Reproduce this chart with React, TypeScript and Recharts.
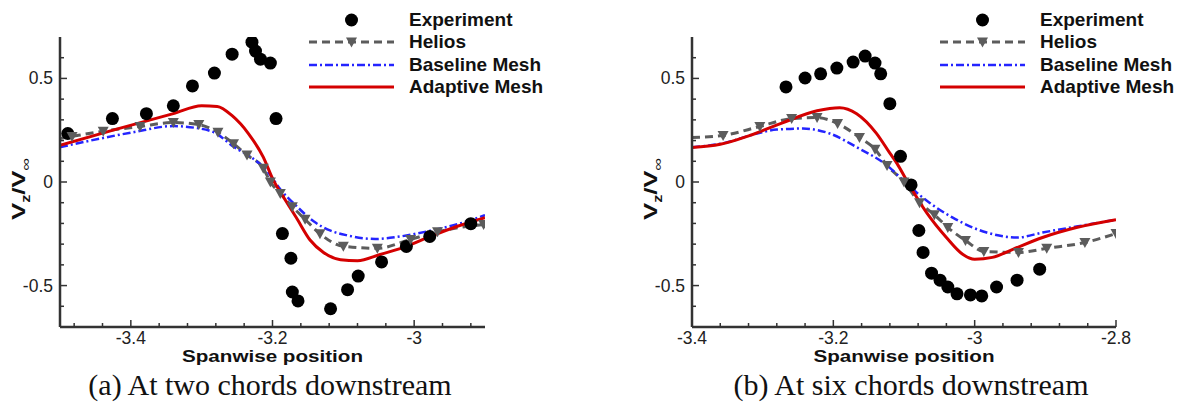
import React from 'react';
import { ComposedChart, Label, Legend, Line, Scatter, XAxis, YAxis } from 'recharts';

type Pt = { x: number; y: number };

// (a) two chords downstream
const expA: Pt[] = [
  { x: -3.489, y: 0.234 }, { x: -3.426, y: 0.306 }, { x: -3.378, y: 0.33 },
  { x: -3.34, y: 0.368 }, { x: -3.313, y: 0.464 }, { x: -3.282, y: 0.526 },
  { x: -3.257, y: 0.617 }, { x: -3.229, y: 0.675 }, { x: -3.224, y: 0.632 },
  { x: -3.217, y: 0.593 }, { x: -3.203, y: 0.574 }, { x: -3.195, y: 0.306 },
  { x: -3.186, y: -0.249 }, { x: -3.174, y: -0.368 }, { x: -3.172, y: -0.531 },
  { x: -3.164, y: -0.574 }, { x: -3.118, y: -0.612 }, { x: -3.094, y: -0.52 },
  { x: -3.079, y: -0.454 }, { x: -3.046, y: -0.386 }, { x: -3.011, y: -0.311 },
  { x: -2.978, y: -0.263 }, { x: -2.92, y: -0.201 },
];
const heliosA: Pt[] = [
  { x: -3.5, y: 0.21 }, { x: -3.483, y: 0.22 }, { x: -3.439, y: 0.245 },
  { x: -3.387, y: 0.268 }, { x: -3.34, y: 0.287 }, { x: -3.304, y: 0.277 },
  { x: -3.277, y: 0.24 }, { x: -3.255, y: 0.185 }, { x: -3.236, y: 0.13 },
  { x: -3.213, y: 0.066 }, { x: -3.203, y: 0.0 }, { x: -3.189, y: -0.055 },
  { x: -3.172, y: -0.12 }, { x: -3.154, y: -0.18 }, { x: -3.133, y: -0.25 },
  { x: -3.1, y: -0.31 }, { x: -3.052, y: -0.32 }, { x: -3.005, y: -0.277 },
  { x: -2.967, y: -0.24 }, { x: -2.902, y: -0.205 },
];
const baselineA: Pt[] = [
  { x: -3.5, y: 0.168 }, { x: -3.443, y: 0.21 }, { x: -3.397, y: 0.24 },
  { x: -3.34, y: 0.27 }, { x: -3.31, y: 0.262 }, { x: -3.28, y: 0.235 },
  { x: -3.255, y: 0.17 }, { x: -3.23, y: 0.12 }, { x: -3.207, y: 0.05 },
  { x: -3.189, y: -0.035 }, { x: -3.165, y: -0.12 }, { x: -3.142, y: -0.19 },
  { x: -3.118, y: -0.235 }, { x: -3.094, y: -0.258 }, { x: -3.055, y: -0.275 },
  { x: -3.024, y: -0.265 }, { x: -2.977, y: -0.235 }, { x: -2.93, y: -0.195 },
  { x: -2.9, y: -0.16 },
];
const adaptiveA: Pt[] = [
  { x: -3.5, y: 0.177 }, { x: -3.42, y: 0.255 }, { x: -3.34, y: 0.33 },
  { x: -3.3, y: 0.368 }, { x: -3.278, y: 0.365 }, { x: -3.257, y: 0.32 },
  { x: -3.234, y: 0.234 }, { x: -3.213, y: 0.12 }, { x: -3.199, y: 0.01 },
  { x: -3.185, y: -0.07 }, { x: -3.165, y: -0.18 }, { x: -3.147, y: -0.28 },
  { x: -3.128, y: -0.34 }, { x: -3.104, y: -0.375 }, { x: -3.08, y: -0.38 },
  { x: -3.048, y: -0.35 }, { x: -3.015, y: -0.316 }, { x: -2.977, y: -0.263 },
  { x: -2.94, y: -0.215 }, { x: -2.9, y: -0.172 },
];

// (b) six chords downstream
const expB: Pt[] = [
  { x: -3.267, y: 0.459 }, { x: -3.24, y: 0.502 }, { x: -3.218, y: 0.522 },
  { x: -3.195, y: 0.55 }, { x: -3.172, y: 0.579 }, { x: -3.155, y: 0.608 },
  { x: -3.141, y: 0.574 }, { x: -3.133, y: 0.522 }, { x: -3.12, y: 0.378 },
  { x: -3.105, y: 0.124 }, { x: -3.09, y: -0.014 }, { x: -3.079, y: -0.234 },
  { x: -3.073, y: -0.34 }, { x: -3.061, y: -0.44 }, { x: -3.049, y: -0.474 },
  { x: -3.038, y: -0.507 }, { x: -3.025, y: -0.54 }, { x: -3.006, y: -0.545 },
  { x: -2.99, y: -0.55 }, { x: -2.969, y: -0.507 }, { x: -2.94, y: -0.474 },
  { x: -2.908, y: -0.421 },
];
const heliosB: Pt[] = [
  { x: -3.4, y: 0.215 }, { x: -3.356, y: 0.225 }, { x: -3.304, y: 0.268 },
  { x: -3.259, y: 0.306 }, { x: -3.223, y: 0.311 }, { x: -3.194, y: 0.282 },
  { x: -3.163, y: 0.215 }, { x: -3.141, y: 0.158 }, { x: -3.124, y: 0.08 },
  { x: -3.1, y: 0.0 }, { x: -3.078, y: -0.1 }, { x: -3.057, y: -0.158 },
  { x: -3.038, y: -0.22 }, { x: -3.013, y: -0.282 }, { x: -2.987, y: -0.335 },
  { x: -2.938, y: -0.34 }, { x: -2.898, y: -0.32 }, { x: -2.844, y: -0.292 },
  { x: -2.8, y: -0.249 },
];
const baselineB: Pt[] = [
  { x: -3.4, y: 0.168 }, { x: -3.356, y: 0.187 }, { x: -3.308, y: 0.234 },
  { x: -3.28, y: 0.253 }, { x: -3.243, y: 0.258 }, { x: -3.205, y: 0.234 },
  { x: -3.167, y: 0.168 }, { x: -3.124, y: 0.08 }, { x: -3.092, y: -0.022 },
  { x: -3.064, y: -0.1 }, { x: -3.031, y: -0.172 }, { x: -2.983, y: -0.244 },
  { x: -2.94, y: -0.268 }, { x: -2.904, y: -0.244 }, { x: -2.856, y: -0.215 },
  { x: -2.8, y: -0.182 },
];
const adaptiveB: Pt[] = [
  { x: -3.4, y: 0.167 }, { x: -3.36, y: 0.182 }, { x: -3.318, y: 0.225 },
  { x: -3.271, y: 0.287 }, { x: -3.223, y: 0.344 }, { x: -3.191, y: 0.359 },
  { x: -3.167, y: 0.33 }, { x: -3.139, y: 0.235 }, { x: -3.12, y: 0.139 },
  { x: -3.11, y: 0.09 }, { x: -3.095, y: 0.0 }, { x: -3.068, y: -0.148 },
  { x: -3.04, y: -0.268 }, { x: -3.017, y: -0.349 }, { x: -3.0, y: -0.373 },
  { x: -2.975, y: -0.364 }, { x: -2.946, y: -0.325 }, { x: -2.904, y: -0.268 },
  { x: -2.856, y: -0.22 }, { x: -2.8, y: -0.182 },
];

const Y_MAJOR = [-0.5, 0, 0.5];
const Y_MINOR = [-0.6, -0.4, -0.3, -0.2, -0.1, 0.1, 0.2, 0.3, 0.4, 0.6];
const X_MAJOR_A = [-3.4, -3.2, -3];
const X_MINOR_A = [-3.48, -3.44, -3.36, -3.32, -3.28, -3.24, -3.16, -3.12, -3.08, -3.04, -2.96, -2.92];
const X_MAJOR_B = [-3.4, -3.2, -3, -2.8];
const X_MINOR_B = [-3.36, -3.32, -3.28, -3.24, -3.16, -3.12, -3.08, -3.04, -2.96, -2.92, -2.88, -2.84];

const LEGEND_LABELS = ['Experiment', 'Helios', 'Baseline Mesh', 'Adaptive Mesh'];
const CAPTIONS = ['(a) At two chords downstream', '(b) At six chords downstream'];
const X_TITLE = 'Spanwise position';

const AXIS = '#333';
const GRAY = '#5c5c5c';
const BLUE = '#2424ff';
const RED = '#d40000';
const SANS = '"Liberation Sans", Arial, Helvetica, sans-serif';
const SERIF = '"Liberation Serif", "Times New Roman", serif';

const isIn = (list: number[], v: number) => list.some((m) => Math.abs(m - v) < 1e-9);

const makeXTick = (majors: number[]) => (props: any) => {
  const { x, y, payload } = props;
  const major = isIn(majors, payload.value);
  return (
    <g>
      <line x1={x} x2={x} y1={y} y2={y - (major ? 7 : 4)} stroke={AXIS} strokeWidth={1.5} />
      {major && (
        <text x={x} y={y + 17} textAnchor="middle" fontFamily={SANS} fontSize={17.5} fill="#222">
          {String(payload.value)}
        </text>
      )}
    </g>
  );
};

const YTick = (props: any) => {
  const { x, y, payload } = props;
  const major = isIn(Y_MAJOR, payload.value);
  return (
    <g>
      <line x1={x} x2={x + (major ? 7 : 4)} y1={y} y2={y} stroke={AXIS} strokeWidth={1.5} />
      {major && (
        <text x={x - 7} y={y + 6} textAnchor="end" fontFamily={SANS} fontSize={17.5} fill="#222">
          {String(payload.value)}
        </text>
      )}
    </g>
  );
};

const YTitle = (props: any) => {
  const vb = props.viewBox;
  const bx = vb.x + 15;
  const cy = vb.y + vb.height / 2 + 7;
  return (
    <text
      transform={`translate(${bx},${cy}) rotate(-90)`}
      textAnchor="middle"
      fontFamily={SANS}
      fontWeight="bold"
      fontSize={19}
      fill="#111"
      textLength={62}
      lengthAdjust="spacingAndGlyphs"
    >
      V<tspan fontSize={12} dy={5}>z</tspan>
      <tspan dy={-5}>/V</tspan>
      <tspan fontSize={13} dy={5} fontWeight="normal">∞</tspan>
    </text>
  );
};

const XTitle = (props: any) => {
  const vb = props.viewBox;
  return (
    <text
      x={vb.x + vb.width / 2}
      y={vb.y + 35}
      textAnchor="middle"
      fontFamily={SANS}
      fontWeight="bold"
      fontSize={17}
      fill="#111"
      textLength={181}
      lengthAdjust="spacingAndGlyphs"
    >
      {X_TITLE}
    </text>
  );
};

const triDown = (cx: number, cy: number) =>
  `${cx - 5.5},${cy - 4.5} ${cx + 5.5},${cy - 4.5} ${cx},${cy + 5.5}`;

const HeliosDot = (p: any) => {
  if (p.index === 0 || p.cx == null) return <g key={`h-${p.index}`} />;
  return <polygon key={`h-${p.index}`} points={triDown(p.cx, p.cy)} fill={GRAY} />;
};

const ExpDot = (p: any) => <circle cx={p.cx} cy={p.cy} r={6.5} fill="#000" />;

const LegendBox = () => (
  <div style={{ fontFamily: SANS, fontWeight: 'bold', fontSize: 19, color: '#111' }}>
    {LEGEND_LABELS.map((label, i) => (
      <div key={label} style={{ display: 'flex', alignItems: 'center', height: 22.3 }}>
        <svg width={85} height={22} style={{ display: 'block' }}>
          {i === 0 && <circle cx={42.5} cy={11} r={6.5} fill="#000" />}
          {i === 1 && (
            <>
              <line x1={0} x2={85} y1={11} y2={11} stroke={GRAY} strokeWidth={3} strokeDasharray="8 5" />
              <polygon points={triDown(42.5, 11)} fill={GRAY} />
            </>
          )}
          {i === 2 && (
            <line x1={0} x2={85} y1={11} y2={11} stroke={BLUE} strokeWidth={2.5} strokeDasharray="8 3 2 3" />
          )}
          {i === 3 && <line x1={0} x2={85} y1={11} y2={11} stroke={RED} strokeWidth={3} />}
        </svg>
        <span style={{ marginLeft: 15, whiteSpace: 'nowrap', lineHeight: '22px' }}>{label}</span>
      </div>
    ))}
  </div>
);

interface PanelProps {
  width: number;
  marginLeft: number;
  marginRight: number;
  domain: [number, number];
  xMajor: number[];
  xMinor: number[];
  legendLeft: number;
  exp: Pt[];
  helios: Pt[];
  baseline: Pt[];
  adaptive: Pt[];
}

function Panel(p: PanelProps) {
  return (
    <ComposedChart
      width={p.width}
      height={403}
      margin={{ top: 37, right: p.marginRight, bottom: 36, left: p.marginLeft }}
    >
      <XAxis
        type="number"
        dataKey="x"
        domain={p.domain}
        allowDataOverflow
        ticks={[...p.xMinor, ...p.xMajor].sort((a, b) => a - b)}
        interval={0}
        tickSize={0}
        tickMargin={0}
        tickLine={false}
        tick={makeXTick(p.xMajor)}
        axisLine={{ stroke: AXIS, strokeWidth: 2.5 }}
        height={40}
      >
        <Label content={XTitle} />
      </XAxis>
      <YAxis
        type="number"
        dataKey="y"
        domain={[-0.7, 0.7]}
        allowDataOverflow
        ticks={[...Y_MINOR, ...Y_MAJOR].sort((a, b) => a - b)}
        interval={0}
        tickSize={0}
        tickMargin={0}
        tickLine={false}
        tick={YTick}
        axisLine={{ stroke: AXIS, strokeWidth: 2.5 }}
        width={50}
      >
        <Label content={YTitle} />
      </YAxis>
      <Legend
        layout="vertical"
        align="center"
        verticalAlign="middle"
        content={LegendBox}
        wrapperStyle={{ left: p.legendLeft, top: 9, width: 260 }}
      />
      <Line
        data={p.helios}
        dataKey="y"
        type="monotone"
        stroke={GRAY}
        strokeWidth={3}
        strokeDasharray="8 5"
        dot={HeliosDot}
        activeDot={false}
        isAnimationActive={false}
      />
      <Line
        data={p.baseline}
        dataKey="y"
        type="monotone"
        stroke={BLUE}
        strokeWidth={2.5}
        strokeDasharray="8 3 2 3"
        dot={false}
        activeDot={false}
        isAnimationActive={false}
      />
      <Line
        data={p.adaptive}
        dataKey="y"
        type="monotone"
        stroke={RED}
        strokeWidth={3}
        dot={false}
        activeDot={false}
        isAnimationActive={false}
      />
      <Scatter data={p.exp} dataKey="y" shape={ExpDot} isAnimationActive={false} />
    </ComposedChart>
  );
}

export default function App() {
  return (
    <div style={{ position: 'relative', width: 1179, height: 403, background: '#fff' }}>
      <style>{'body{margin:0;background:#fff}'}</style>
      <div style={{ position: 'absolute', left: 0, top: 0 }}>
        <Panel
          width={590}
          marginLeft={10}
          marginRight={105}
          domain={[-3.5, -2.9]}
          xMajor={X_MAJOR_A}
          xMinor={X_MINOR_A}
          legendLeft={309}
          exp={expA}
          helios={heliosA}
          baseline={baselineA}
          adaptive={adaptiveA}
        />
      </div>
      <div style={{ position: 'absolute', left: 590, top: 0 }}>
        <Panel
          width={589}
          marginLeft={52}
          marginRight={63}
          domain={[-3.4, -2.8]}
          xMajor={X_MAJOR_B}
          xMinor={X_MINOR_B}
          legendLeft={350}
          exp={expB}
          helios={heliosB}
          baseline={baselineB}
          adaptive={adaptiveB}
        />
      </div>
      <svg
        width={1179}
        height={403}
        style={{ position: 'absolute', left: 0, top: 0, pointerEvents: 'none' }}
      >
        <text x={270} y={395} textAnchor="middle" fontFamily={SERIF} fontSize={30} fill="#111">
          {CAPTIONS[0]}
        </text>
        <text x={911} y={395} textAnchor="middle" fontFamily={SERIF} fontSize={30} fill="#111">
          {CAPTIONS[1]}
        </text>
      </svg>
    </div>
  );
}
